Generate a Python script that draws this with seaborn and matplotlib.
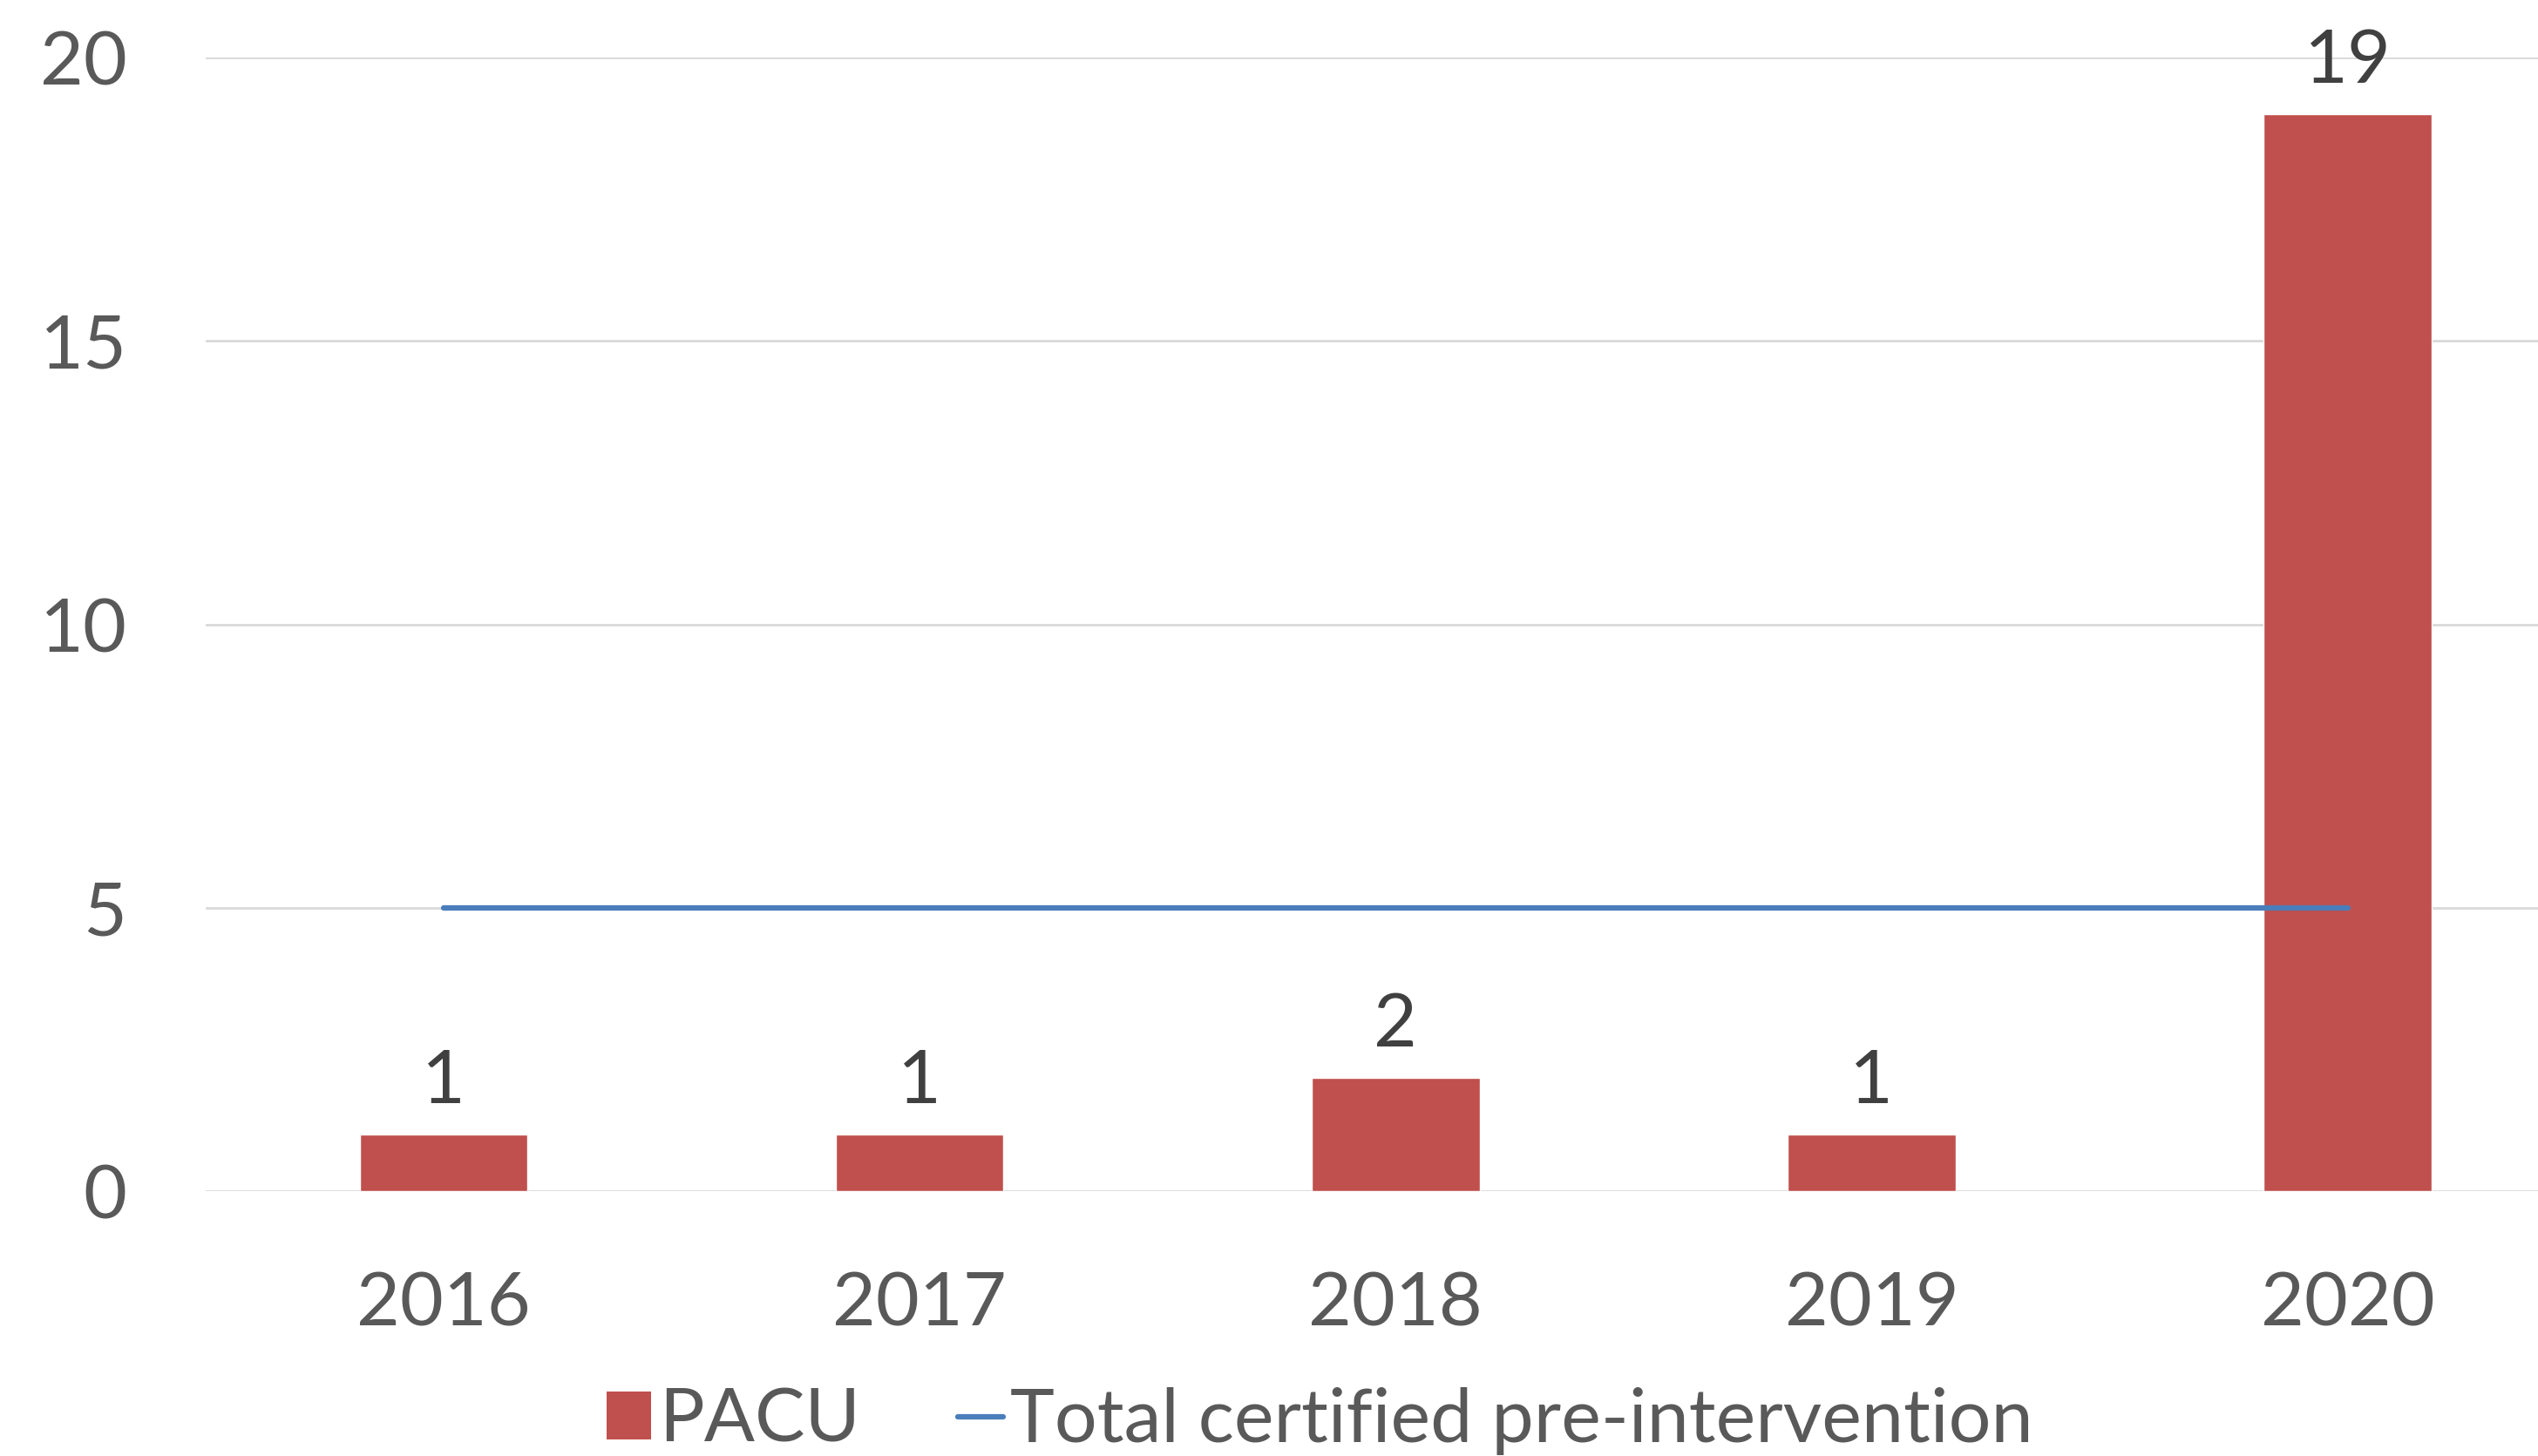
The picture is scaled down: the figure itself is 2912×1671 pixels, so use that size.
import numpy as np
import pandas as pd
import matplotlib as mpl
mpl.use("Agg")
import matplotlib.pyplot as plt
from matplotlib.patches import Patch
from matplotlib.lines import Line2D
import seaborn as sns

# data
years = ["2016", "2017", "2018", "2019", "2020"]
pacu = [1, 1, 2, 1, 19]
total_certified = [5, 5, 5, 5, 5]

df = pd.DataFrame({"Year": years, "PACU": pacu, "Total": total_certified})

sns.set_theme(style="white")
plt.rcParams["font.family"] = ["Lato", "DejaVu Sans"]

bar_col = "#C0504D"
line_col = "#4A7EBB"
tick_col = "#595959"
lab_col = "#404040"
fs = 62

fig = plt.figure(figsize=(29.12, 16.71), dpi=100)
ax = fig.add_axes([0.081, 0.1819, 0.919, 0.7786])

sns.barplot(data=df, x="Year", y="PACU", color=bar_col, width=0.353,
            saturation=1, ax=ax, zorder=2)
sns.lineplot(x=np.arange(len(years)), y=df["Total"], color=line_col,
             linewidth=4.5, ax=ax, zorder=3)

# value labels above bars
for i, v in enumerate(pacu):
    ax.text(i, v + 0.32, str(v), ha="center", va="bottom", fontsize=fs,
            color=lab_col, clip_on=False, zorder=4)

ax.set_ylim(0, 20)
ax.set_xlim(-0.5, 4.40)
ax.set_yticks([0, 5, 10, 15, 20])
ax.yaxis.grid(True, color="#D9D9D9", linewidth=2)
ax.set_axisbelow(True)
ax.tick_params(axis="y", labelsize=fs, colors=tick_col, length=0, pad=65)
ax.tick_params(axis="x", labelsize=fs, colors=tick_col, length=0, pad=66)
ax.set_xlabel("")
ax.set_ylabel("")
sns.despine(ax=ax, left=True, bottom=True)

handles = [Patch(facecolor=bar_col, edgecolor="none"),
           Line2D([0], [0], color=line_col, linewidth=4.5)]
fig.legend(handles, ["PACU", "Total certified pre-intervention"],
           loc="center", bbox_to_anchor=(0.52, 0.024), ncol=2, frameon=False,
           fontsize=fs, labelcolor=tick_col, handlelength=0.6,
           handleheight=0.6, handletextpad=0.1, columnspacing=1.3)

fig.savefig("out.png", dpi=100)
